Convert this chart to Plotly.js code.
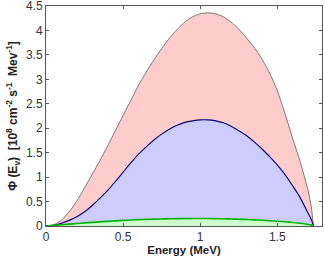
<!DOCTYPE html>
<html>
<head>
<meta charset="utf-8">
<script src="https://cdn.plot.ly/plotly-3.0.1.min.js"></script>
<style>html,body{margin:0;padding:0;background:#fff;overflow:hidden;}#chart{width:325px;height:256px;}</style>
</head>
<body>
<div id="chart"></div>
<script>
// Energy grid (MeV)
var energy = [0,0.05,0.1,0.15,0.2,0.25,0.3,0.35,0.4,0.45,0.5,0.55,0.6,0.65,0.7,0.75,0.8,0.85,0.9,0.95,1.0,1.05,1.1,1.15,1.2,1.25,1.3,1.35,1.4,1.45,1.5,1.55,1.6,1.65,1.7,1.72,1.735];
// Flux series (10^8 cm^-2 s^-1 MeV^-1)
var fluxRed   = [0,0.025,0.12,0.29,0.51,0.78,1.06,1.34,1.64,1.95,2.26,2.57,2.88,3.15,3.40,3.63,3.84,4.02,4.17,4.28,4.34,4.36,4.34,4.28,4.17,4.03,3.85,3.65,3.42,3.13,2.77,2.30,1.79,1.30,0.72,0.40,0];
var fluxBlue  = [0,0.012,0.055,0.115,0.19,0.29,0.42,0.57,0.73,0.91,1.10,1.29,1.47,1.62,1.76,1.88,1.98,2.06,2.12,2.15,2.17,2.17,2.15,2.11,2.04,1.95,1.85,1.72,1.58,1.42,1.25,1.05,0.82,0.57,0.26,0.14,0];
var fluxGreen = [0,0.012,0.025,0.038,0.05,0.063,0.075,0.085,0.095,0.105,0.115,0.123,0.13,0.135,0.14,0.144,0.148,0.15,0.152,0.153,0.153,0.152,0.15,0.147,0.143,0.138,0.132,0.125,0.118,0.108,0.098,0.086,0.072,0.055,0.03,0.018,0];
var xTicks = [0,0.5,1,1.5];
var yTicks = [0,0.5,1,1.5,2,2.5,3,3.5,4,4.5];

var traces = [
  {x: energy, y: fluxRed, type:'scatter', mode:'lines', fill:'tozeroy',
   fillcolor:'rgb(255,204,204)', line:{color:'#5a5a5a', width:0.8, shape:'spline', smoothing:0.6}},
  {x: energy, y: fluxBlue, type:'scatter', mode:'lines', fill:'tozeroy',
   fillcolor:'rgb(204,204,255)', line:{color:'#00007a', width:1.1, shape:'spline', smoothing:0.6}},
  {x: energy, y: fluxGreen, type:'scatter', mode:'lines', fill:'tozeroy',
   fillcolor:'rgb(204,255,204)', line:{color:'#00b400', width:1.6, shape:'spline', smoothing:0.6}}
];

var tickFont = {family:'Liberation Sans, Arial, sans-serif', size:12, color:'#333'};
var titleFont = {family:'Liberation Sans, Arial, sans-serif', size:12, color:'#222'};
var layout = {
  width:325, height:256,
  margin:{l:46, r:3, t:6, b:30, autoexpand:false},
  paper_bgcolor:'#fff', plot_bgcolor:'#fff',
  showlegend:false,
  xaxis:{
    range:[0,1.79], tickvals:xTicks, ticktext:xTicks.map(String),
    ticks:'inside', ticklen:3, tickcolor:'#555', tickwidth:1,
    showline:true, linecolor:'#555', linewidth:1, mirror:'ticks',
    showgrid:false, zeroline:false, tickfont:tickFont, ticklabelstandoff:0,
    ticklabeloverflow:'allow',
    title:{text:'<b>Energy (MeV)</b>', font:{family:'Liberation Sans, Arial, sans-serif', size:11.5, color:'#222'}, standoff:0}
  },
  yaxis:{
    range:[0,4.5], tickvals:yTicks, ticktext:yTicks.map(String),
    ticks:'inside', ticklen:3, tickcolor:'#555', tickwidth:1,
    showline:true, linecolor:'#555', linewidth:1, mirror:'ticks',
    showgrid:false, zeroline:false, tickfont:tickFont,
    ticklabeloverflow:'allow',
    title:{text:'<b>Φ (E<sub>ν</sub>)  [10<sup>8</sup> cm<sup>-2</sup> s<sup>-1</sup>  Mev<sup>-1</sup>]</b>', font:titleFont, standoff:5}
  }
};
Plotly.newPlot('chart', traces, layout, {staticPlot:true, displayModeBar:false});
</script>
</body>
</html>
